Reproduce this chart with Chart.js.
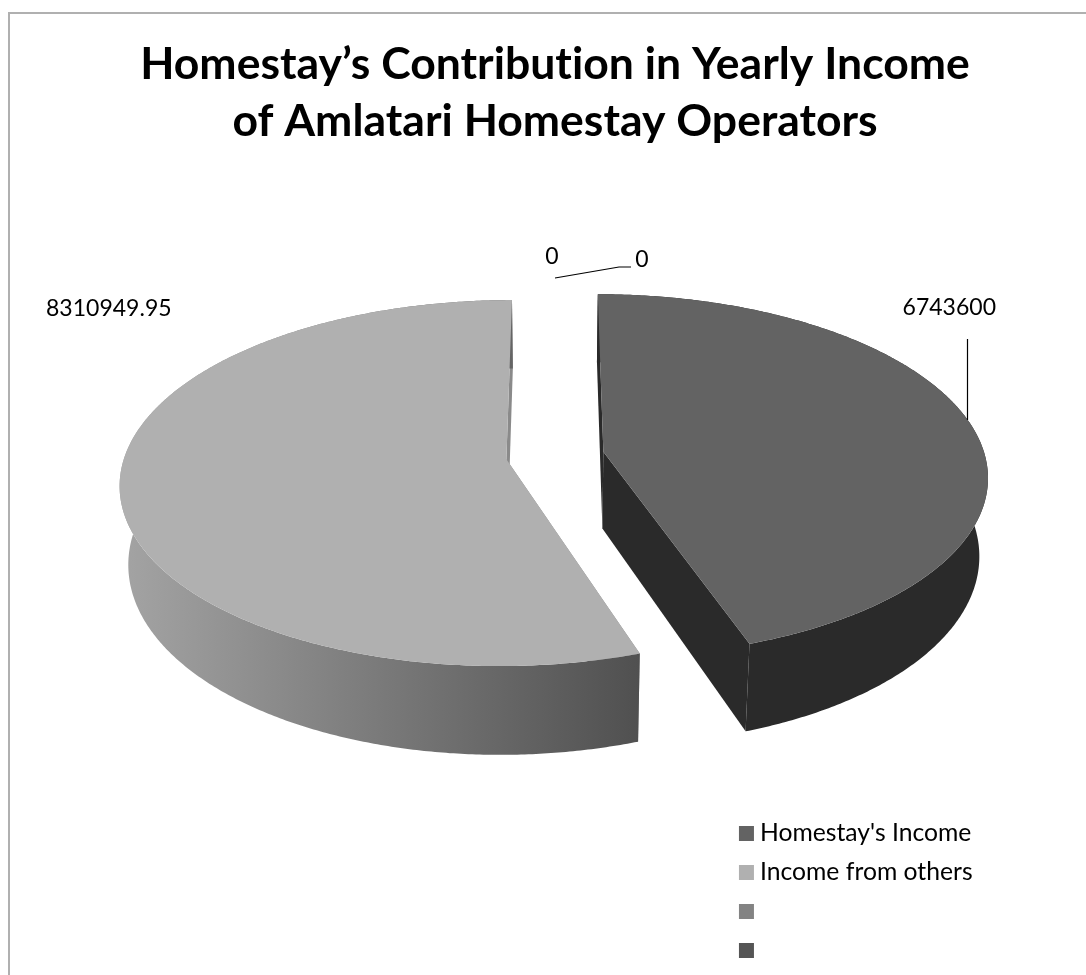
<!DOCTYPE html>
<html>
<head>
<meta charset="utf-8">
<style>
html,body{margin:0;padding:0;background:#fff}
canvas{display:block}
</style>
<script src="https://cdn.jsdelivr.net/npm/chart.js@4"></script>
</head>
<body>
<canvas id="pie" width="1086" height="975"></canvas>
<script>
// Income split for the Amlatari homestay operators
const categories = ["Homestay's Income", "Income from others", "", ""];
const incomeValues = [6743600, 8310949.95, 0, 0];
const valueLabels = ["6743600", "8310949.95", "0", "0"];
const titleLines = ["Homestay\u2019s Contribution in Yearly Income", "of Amlatari Homestay Operators"];
const topColors = ["#636363", "#b0b0b0", "#838383", "#555555"];
const sideColors = ["#2a2a2a", "#8a8a8a", "#838383", "#555555"];

// Label anchors: text position, alignment and leader line
const labelStyles = [
  {x: 996, y: 308, align: "right", leader: [[967.5, 339], [967.5, 420]]},
  {x: 46, y: 309, align: "left", leader: null},
  {x: 552, y: 257, align: "center", leader: [[555, 278], [619, 267], [631, 267]]},
  {x: 642, y: 260, align: "center", leader: null}
];

// Tilted-disc view: how the flat pie is projected onto the page
const view = {xScale: 1.365, yScale: 0.64, recede: 0.13, depth: 77, shrink: 0.02};

function project(arc, u, v, z) {
  const R = arc.outerRadius;
  const w = 1 - view.recede * v;
  return {
    x: arc.x + R * view.xScale * u / w * (1 - view.shrink * z),
    y: arc.y + (R * view.yScale * v + view.depth * z) / w
  };
}

function tracePath(ctx, pts) {
  ctx.beginPath();
  pts.forEach((p, i) => i ? ctx.lineTo(p.x, p.y) : ctx.moveTo(p.x, p.y));
  ctx.closePath();
}

const tiltedPie = {
  id: "tiltedPie",
  beforeDatasetDraw(chart, args) {
    const ctx = chart.ctx;
    const arcs = args.meta.data;
    ctx.save();
    arcs.forEach((arc, i) => {
      if (arc.endAngle - arc.startAngle <= 0) return;
      const mid = (arc.startAngle + arc.endAngle) / 2;
      const off = arc.options.offset / arc.outerRadius;
      const ox = Math.cos(mid) * off, oy = Math.sin(mid) * off;
      const steps = Math.ceil((arc.endAngle - arc.startAngle) * 180 / Math.PI * 2);
      const rim = z => {
        const list = [];
        for (let s = 0; s <= steps; s++) {
          const a = arc.startAngle + (arc.endAngle - arc.startAngle) * s / steps;
          list.push(project(arc, ox + Math.cos(a), oy + Math.sin(a), z));
        }
        return list;
      };
      const topRim = rim(0), lowRim = rim(1);
      const apexTop = project(arc, ox, oy, 0), apexLow = project(arc, ox, oy, 1);

      // Flat cut faces first, then the curved wall, then the top surface
      ctx.fillStyle = sideColors[i];
      tracePath(ctx, [apexTop, topRim[0], lowRim[0], apexLow]);
      ctx.fill();
      tracePath(ctx, [apexTop, topRim[steps], lowRim[steps], apexLow]);
      ctx.fill();

      const xs = topRim.map(p => p.x);
      if (i === 1) {
        const g = ctx.createLinearGradient(Math.min(...xs), 0, topRim[0].x, 0);
        g.addColorStop(0, "#a4a4a4");
        g.addColorStop(1, "#505050");
        ctx.fillStyle = g;
      }
      tracePath(ctx, topRim.concat(lowRim.slice().reverse()));
      ctx.fill();

      ctx.fillStyle = topColors[i];
      tracePath(ctx, [apexTop].concat(topRim));
      ctx.fill();
    });
    ctx.restore();
    return false;
  }
};

// Value labels with their thin leader lines, and the frame along the top and left
const chartDressing = {
  id: "chartDressing",
  beforeDraw(chart) {
    const ctx = chart.ctx;
    ctx.letterSpacing = "0.01px"; // keeps "ti" as two separate glyphs in the title
    ctx.save();
    ctx.strokeStyle = "#b0b0b0";
    ctx.lineWidth = 2;
    ctx.beginPath();
    ctx.moveTo(9, 975);
    ctx.lineTo(9, 13);
    ctx.lineTo(1086, 13);
    ctx.stroke();
    ctx.restore();
  },
  afterDatasetsDraw(chart) {
    const ctx = chart.ctx;
    ctx.save();
    ctx.font = "23px Lato";
    ctx.fillStyle = "#000";
    ctx.textBaseline = "middle";
    labelStyles.forEach((s, i) => {
      ctx.textAlign = s.align;
      ctx.fillText(valueLabels[i], s.x, s.y);
      if (s.leader) {
        ctx.beginPath();
        s.leader.forEach((p, j) => j ? ctx.lineTo(p[0], p[1]) : ctx.moveTo(p[0], p[1]));
        ctx.strokeStyle = "#000";
        ctx.lineWidth = 1.2;
        ctx.stroke();
      }
    });
    ctx.restore();
  },
  afterLayout(chart) {
    // The legend sits low on the right, clear of the pie
    const l = chart.legend;
    l.left = 731; l.right = l.left + l.width;
    l.top = 806.85; l.bottom = l.top + l.height;
  }
};

new Chart(document.getElementById("pie"), {
  type: "pie",
  data: {
    labels: categories,
    datasets: [{
      data: incomeValues,
      backgroundColor: topColors,
      borderWidth: 0,
      offset: 36
    }]
  },
  plugins: [chartDressing, tiltedPie],
  options: {
    responsive: false,
    animation: false,
    events: [],
    layout: {padding: {left: 24, right: 0, top: 0, bottom: 222}},
    plugins: {
      tooltip: {enabled: false},
      title: {
        display: true,
        text: titleLines,
        color: "#000",
        font: {family: "Lato", size: 44.5, weight: "bold", lineHeight: 1.28},
        padding: {top: 36, bottom: 8}
      },
      legend: {
        position: "chartArea",
        align: "start",
        labels: {
          color: "#000",
          font: {family: "Lato", size: 24.7},
          padding: 14.3,
          boxWidth: 2.3,
          boxHeight: 15,
          usePointStyle: true,
          pointStyle: "rect"
        }
      }
    }
  }
});
</script>
</body>
</html>
